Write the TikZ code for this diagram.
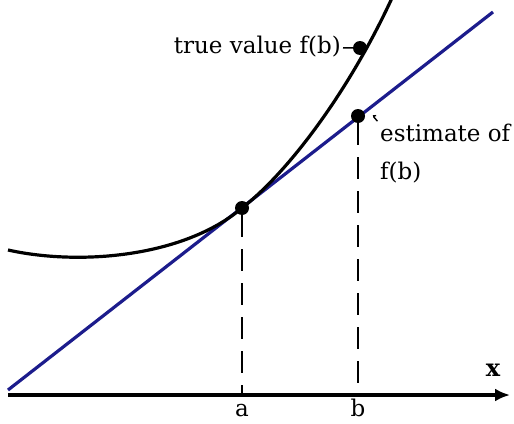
\documentclass[tikz,border=0pt]{standalone}
\usepackage{fontspec}
\setmainfont{DejaVu Serif}
\usepackage{tikz}
\usetikzlibrary{arrows.meta}
\definecolor{tangentblue}{RGB}{28,28,140}

\begin{document}
\begin{tikzpicture}[x=1pt,y=-1pt,
  dot/.style={circle,fill=black,inner sep=0pt,minimum size=14pt},
  guide/.style={line width=2pt,dash pattern=on 22pt off 12pt},
  label/.style={font=\fontsize{23}{38}\selectfont,inner sep=2pt}]

  \useasboundingbox (0,0) rectangle (514,423);

  \coordinate (t1) at (8, 390);
  \coordinate (t2) at (493, 12);

  \coordinate (orig) at (8, 395);
  \coordinate (right) at (510, 395);

  \coordinate (ax) at (242, 395);
  \coordinate (bx) at (358, 395);

  \draw[tangentblue,line width=3.2pt] (t1) -- (t2); % tangent

  \draw[line width=3.2pt] (8,250) .. controls (80,266) and (184,257) .. (242,208)
        .. controls (292,169) and (352,85) .. (392,-2); % f

  \draw[line width=3.2pt,-{Latex[length=15pt,width=13pt]}] (orig) -- (right);
  \node[font=\fontsize{24}{28}\selectfont\bfseries] (xl) at (493,370) {x};

  \node[dot] (pa) at (242,208) {};
  \node[dot] (pb) at (358,116) {};
  \node[dot] (pc) at (360,48) {};

  \draw[guide] (pa) -- (ax);
  \draw[guide] (pb) -- (bx);
  \node[label,anchor=base,inner sep=0pt] (al) at (242,416) {a};
  \node[label,anchor=base,inner sep=0pt] (bl) at (358,416) {b};

  \node[label,anchor=east] (tv) at (343,47) {true value f(b)};
  \draw[line width=1.4pt] (tv) -- (pc);

  \node[label,anchor=north west,align=left] (est) at (378,122) {estimate of\\f(b)};
  \draw[line width=1.4pt,shorten <=11pt,shorten >=1pt] (pb) to[bend left=25] (est.north west);

\end{tikzpicture}
\end{document}
